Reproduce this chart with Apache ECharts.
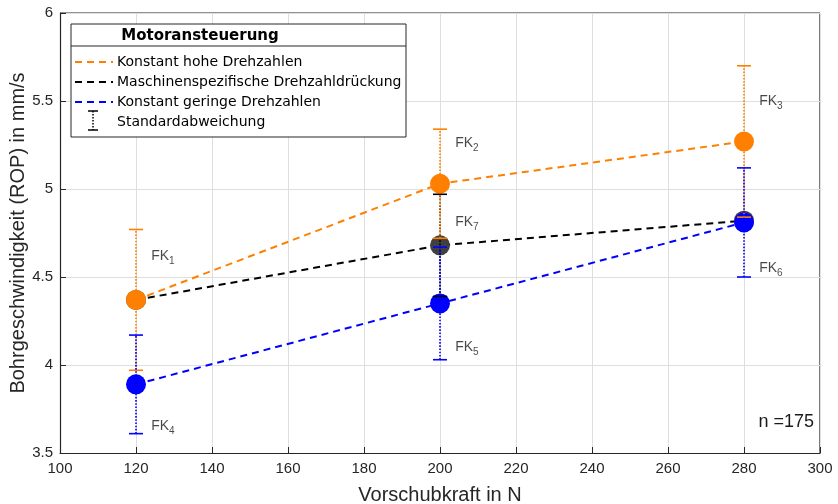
<!DOCTYPE html>
<html>
<head>
<meta charset="utf-8">
<script src="https://cdn.jsdelivr.net/npm/echarts@6/dist/echarts.min.js"></script>
<style>
  html, body { margin: 0; padding: 0; background: #fff; }
  #chart { width: 838px; height: 504px; }
</style>
</head>
<body>
<div id="chart"></div>
<script>
// Vorschubkraft in N
const forces = [120, 200, 280]

// Mittelwerte und Standardabweichungen je Motoransteuerung
const hoheMean = [4.37, 5.03, 5.27]
const hoheSd = [0.40, 0.31, 0.43]
const maschMean = [4.37, 4.68, 4.82]
const maschSd = [null, 0.29, null]
const geringMean = [3.89, 4.35, 4.81]
const geringSd = [0.28, 0.32, 0.31]

// Beschriftungen FK1..FK7 (Position in Datenkoordinaten)
const fkNames = ['1', '2', '3', '4', '5', '6', '7']
const fkX = [124, 204, 284, 124, 204, 284, 204]
const fkY = [4.62, 5.26, 5.50, 3.65, 4.10, 4.55, 4.81]

const xTicks = [100, 120, 140, 160, 180, 200, 220, 240, 260, 280, 300]
const yTicks = [3.5, 4, 4.5, 5, 5.5, 6]

const ORANGE = '#ff8000'
const BLUE = '#0000ff'
const BLACK = '#000000'

const chart = echarts.init(document.getElementById('chart'))

function lineSeries(name, mean, color, markerColor) {
  return {
    name: name,
    type: 'line',
    data: forces.map((f, i) => [f, mean[i]]),
    symbol: 'circle',
    symbolSize: 20,
    itemStyle: { color: markerColor || color },
    lineStyle: { color: color, width: 2, type: [7, 5] },
    z: 3,
    animation: false
  }
}

function errorSeries(mean, sd, color) {
  const data = []
  forces.forEach((f, i) => {
    if (sd[i] != null) data.push([f, mean[i] - sd[i], mean[i] + sd[i]])
  })
  return {
    type: 'custom',
    data: data,
    z: 5,
    animation: false,
    renderItem: function (params, api) {
      const lo = api.coord([api.value(0), api.value(1)])
      const hi = api.coord([api.value(0), api.value(2)])
      const hw = 7
      const st = { stroke: color, lineWidth: 1.6 }
      return {
        type: 'group',
        children: [
          { type: 'line', shape: { x1: lo[0], y1: lo[1], x2: hi[0], y2: hi[1] },
            style: { stroke: color, lineWidth: 1.6, lineDash: [1.6, 1.6] } },
          { type: 'line', shape: { x1: lo[0] - hw, y1: lo[1], x2: lo[0] + hw, y2: lo[1] }, style: st },
          { type: 'line', shape: { x1: hi[0] - hw, y1: hi[1], x2: hi[0] + hw, y2: hi[1] }, style: st }
        ]
      }
    }
  }
}

const legendX = 71, legendY = 24
const entryFont = '14px "DejaVu Sans"'
function legendEntry(row, color, text) {
  const y = legendY + 38 + row * 20
  return [
    { type: 'line', shape: { x1: legendX + 4, y1: y, x2: legendX + 42, y2: y },
      style: { stroke: color, lineWidth: 2, lineDash: [7, 5] } },
    { type: 'text', x: legendX + 46, y: y, style: { text: text, font: entryFont, fill: '#000', textVerticalAlign: 'middle' } }
  ]
}

const option = {
  backgroundColor: '#fff',
  animation: false,
  grid: { left: 60, right: 18, top: 13, bottom: 51, outerBoundsMode: 'none', containLabel: false },
  xAxis: {
    type: 'value',
    min: 100, max: 300, interval: 20,
    name: 'Vorschubkraft in N',
    nameLocation: 'middle',
    nameGap: 32,
    nameMoveOverlap: false,
    nameTextStyle: { fontFamily: 'Liberation Sans', fontSize: 20, color: '#262626' },
    axisLine: { show: true, onZero: false, lineStyle: { color: '#262626', width: 1.2 } },
    axisTick: { show: true, inside: true, length: 6, lineStyle: { color: '#262626' } },
    axisLabel: { fontFamily: 'Liberation Sans', fontSize: 15, color: '#262626', margin: 8,
      formatter: v => xTicks.includes(v) ? String(v) : '' },
    splitLine: { show: true, lineStyle: { color: '#dedede', width: 1 } }
  },
  yAxis: {
    type: 'value',
    min: 3.5, max: 6, interval: 0.5,
    name: 'Bohrgeschwindigkeit (ROP) in mm/s',
    nameLocation: 'middle',
    nameGap: 32,
    nameMoveOverlap: false,
    nameTextStyle: { fontFamily: 'Liberation Sans', fontSize: 20, color: '#262626' },
    axisLine: { show: true, lineStyle: { color: '#262626', width: 1.2 } },
    axisTick: { show: true, inside: true, length: 6, lineStyle: { color: '#262626' } },
    axisLabel: { fontFamily: 'Liberation Sans', fontSize: 15, color: '#262626', margin: 7,
      formatter: v => yTicks.includes(v) ? String(v) : '' },
    splitLine: { show: true, lineStyle: { color: '#dedede', width: 1 } }
  },
  series: [
    lineSeries('Maschinenspezifische Drehzahldrückung', maschMean, BLACK, '#404040'),
    lineSeries('Konstant hohe Drehzahlen', hoheMean, ORANGE),
    lineSeries('Konstant geringe Drehzahlen', geringMean, BLUE),
    errorSeries(maschMean, maschSd, BLACK),
    errorSeries(hoheMean, hoheSd, ORANGE),
    errorSeries(geringMean, geringSd, BLUE),
    {
      type: 'scatter',
      symbolSize: 0,
      silent: true,
      z: 6,
      data: fkX.map((x, i) => ({ value: [x, fkY[i]], name: fkNames[i] })),
      label: {
        show: true,
        position: 'right',
        distance: 0,
        formatter: p => '{a|FK}{b|' + p.name + '}',
        rich: {
          a: { fontFamily: 'Liberation Sans', fontSize: 14, color: '#1a1a1a' },
          b: { fontFamily: 'Liberation Sans', fontSize: 10, color: '#1a1a1a', padding: [10, 0, 0, 0] }
        }
      }
    }
  ],
  graphic: [
    // Rahmen der Achsen (oben, rechts)
    { type: 'line', shape: { x1: 60, y1: 13, x2: 820, y2: 13 }, style: { stroke: '#262626', lineWidth: 1.2 } },
    { type: 'line', shape: { x1: 820, y1: 13, x2: 820, y2: 453 }, style: { stroke: '#262626', lineWidth: 1.2 } },
    { type: 'text', right: 24, top: 413, style: { text: 'n =175', font: '18px "Liberation Sans"', fill: '#1a1a1a' } },
    // Legende
    { type: 'rect', shape: { x: legendX, y: legendY, width: 335, height: 113 },
      style: { fill: '#fff', stroke: '#262626', lineWidth: 1 }, z: 10 },
    { type: 'line', shape: { x1: legendX, y1: legendY + 22, x2: legendX + 335, y2: legendY + 22 },
      style: { stroke: '#262626', lineWidth: 1 }, z: 11 },
    { type: 'text', x: 200, y: legendY + 12, z: 11,
      style: { text: 'Motoransteuerung', font: 'bold 15px "DejaVu Sans"', fill: '#000', textAlign: 'center', textVerticalAlign: 'middle' } },
    ...legendEntry(0, ORANGE, 'Konstant hohe Drehzahlen').map(e => ({ ...e, z: 11 })),
    ...legendEntry(1, BLACK, 'Maschinenspezifische Drehzahldrückung').map(e => ({ ...e, z: 11 })),
    ...legendEntry(2, BLUE, 'Konstant geringe Drehzahlen').map(e => ({ ...e, z: 11 })),
    { type: 'line', z: 11, shape: { x1: 93, y1: 111, x2: 93, y2: 130 }, style: { stroke: '#000', lineWidth: 1.5, lineDash: [1.5, 1.5] } },
    { type: 'line', z: 11, shape: { x1: 88, y1: 111, x2: 98, y2: 111 }, style: { stroke: '#000', lineWidth: 1.5 } },
    { type: 'line', z: 11, shape: { x1: 88, y1: 130, x2: 98, y2: 130 }, style: { stroke: '#000', lineWidth: 1.5 } },
    { type: 'text', x: 117, y: 122, z: 11, style: { text: 'Standardabweichung', font: entryFont, fill: '#000', textVerticalAlign: 'middle' } }
  ]
}

chart.setOption(option)
</script>
</body>
</html>
